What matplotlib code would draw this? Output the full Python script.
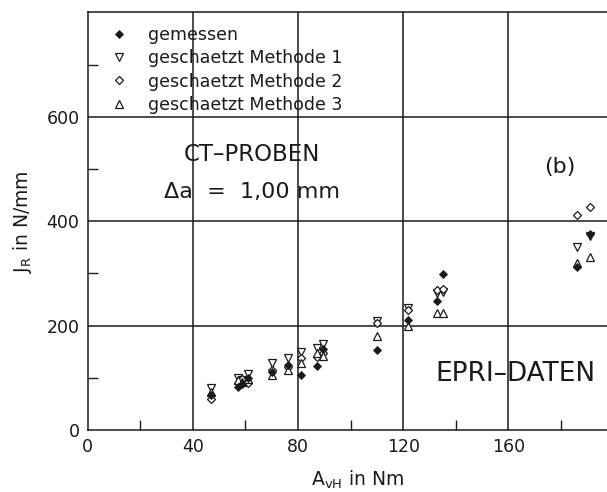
import matplotlib
matplotlib.use("Agg")
import matplotlib.pyplot as plt
from matplotlib.ticker import FixedLocator, NullFormatter

plt.rcParams['font.family'] = ['DejaVu Sans']
plt.rcParams['mathtext.default'] = 'regular'

# -------------------------------
# data (A_vH in Nm, J_R in N/mm)
# -------------------------------
a_vh = [47, 57, 58.5, 61, 70, 76, 81, 87.3, 89.6, 110, 122, 133, 135, 186, 191]
j_gemessen = [68, 82, 88, 100, 112, 125, 106, 122, 155, 154, 210, 248, 298, 313, 375]
j_methode1 = [80, 100, 95, 108, 128, 138, 150, 158, 165, 208, 234, 262, 265, 350, 372]
j_methode2 = [60, 90, 98, 90, 115, 120, 138, 140, 148, 205, 230, 268, 270, 411, 427]
j_methode3 = [73, 95, 92, 98, 106, 115, 128, 148, 142, 181, 200, 224, 225, 320, 331]

labels = ["gemessen", "geschaetzt Methode 1", "geschaetzt Methode 2", "geschaetzt Methode 3"]
x_ticks = [0, 40, 80, 120, 160]
y_ticks = [0, 200, 400, 600]

ink = "#1a1a1a"

fig = plt.figure(figsize=(6.07, 4.92), dpi=100)
ax = fig.add_axes([0.1445, 0.126, 0.8555, 0.849])
ax.set_xlim(0, 197.5)
ax.set_ylim(0, 800)

# grid lines at the major ticks
for xv in x_ticks[1:]:
    ax.axvline(xv, color=ink, lw=1.1, zorder=1)
for yv in y_ticks[1:]:
    ax.axhline(yv, color=ink, lw=1.1, zorder=1)

# measured + estimated values
ax.plot(a_vh, j_methode1, ls="none", marker="v", ms=5.5, mfc="white", mec=ink, mew=0.9, zorder=3, label=labels[1])
ax.plot(a_vh, j_methode2, ls="none", marker="D", ms=4.3, mfc="white", mec=ink, mew=0.9, zorder=3, label=labels[2])
ax.plot(a_vh, j_methode3, ls="none", marker="^", ms=5.5, mfc="white", mec=ink, mew=0.9, zorder=3, label=labels[3])
ax.plot(a_vh, j_gemessen, ls="none", marker="D", ms=4.0, mfc=ink, mec=ink, mew=0.6, zorder=4, label=labels[0])

# legend in the reference order
handles, lbls = ax.get_legend_handles_labels()
order = [lbls.index(l) for l in labels]
ax.legend([handles[i] for i in order], [lbls[i] for i in order],
          loc="upper left", bbox_to_anchor=(0.045, 0.967), frameon=False,
          fontsize=12.5, handlelength=0.9, handletextpad=1.2,
          labelspacing=0.3, borderpad=0, borderaxespad=0, labelcolor=ink)

# frame: no right spine (chart is cut at the image edge)
ax.spines["right"].set_visible(False)
for s in ["left", "bottom", "top"]:
    ax.spines[s].set_color(ink)
    ax.spines[s].set_linewidth(1.1)

ax.xaxis.set_major_locator(FixedLocator(x_ticks))
ax.yaxis.set_major_locator(FixedLocator(y_ticks))
ax.xaxis.set_minor_locator(FixedLocator([20, 60, 100, 140, 180]))
ax.yaxis.set_minor_locator(FixedLocator([100, 300, 500, 700]))
ax.xaxis.set_minor_formatter(NullFormatter())
ax.yaxis.set_minor_formatter(NullFormatter())
ax.tick_params(which="major", length=0, labelsize=12.5, labelcolor=ink, pad=6)
ax.tick_params(which="minor", direction="in", length=7.5, width=1.0, color=ink)

ax.set_ylabel(r"$J_R$ in N/mm", fontsize=13.5, color=ink)
ax.yaxis.set_label_coords(-0.104, 0.5)
ax.set_xlabel(r"$A_{vH}$ in Nm", fontsize=13.5, color=ink)
ax.xaxis.set_label_coords(0.519, -0.092)

ax.text(62.5, 527, "CT–PROBEN", fontsize=16.5, ha="center", va="center", color=ink)
ax.text(62.5, 456, "Δa  =  1,00 mm", fontsize=16, ha="center", va="center", color=ink)
ax.text(179.6, 504, "(b)", fontsize=16, ha="center", va="center", color=ink)
ax.text(162.7, 107, "EPRI–DATEN", fontsize=19, ha="center", va="center", color=ink)

fig.savefig("out.png", dpi=100)
